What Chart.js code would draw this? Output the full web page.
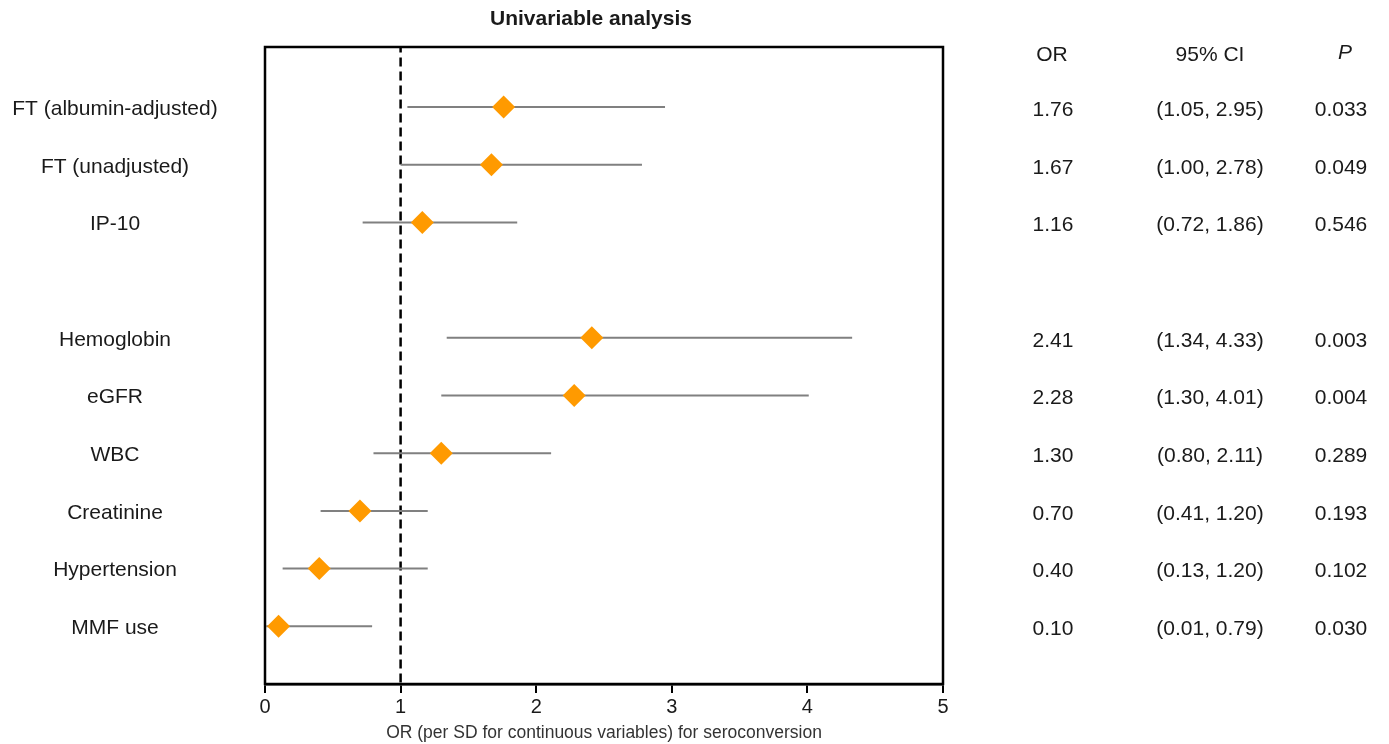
<!DOCTYPE html>
<html>
<head>
<meta charset="utf-8">
<script src="https://cdn.jsdelivr.net/npm/chart.js@4.4.0/dist/chart.umd.min.js"></script>
<style>
  html, body { margin: 0; padding: 0; background: #fff; }
  #wrap { width: 1389px; height: 744px; position: relative; }
</style>
</head>
<body>
<div id="wrap"><canvas id="c" width="1389" height="744"></canvas></div>
<script>
// ---- data ----
const labels = ["FT (albumin-adjusted)", "FT (unadjusted)", "IP-10", "", "Hemoglobin", "eGFR", "WBC", "Creatinine", "Hypertension", "MMF use"];
const orValues = [1.76, 1.67, 1.16, null, 2.41, 2.28, 1.30, 0.70, 0.40, 0.10];
const ciLow    = [1.05, 1.00, 0.72, null, 1.34, 1.30, 0.80, 0.41, 0.13, 0.01];
const ciHigh   = [2.95, 2.78, 1.86, null, 4.33, 4.01, 2.11, 1.20, 1.20, 0.79];
const orText   = ["1.76", "1.67", "1.16", "", "2.41", "2.28", "1.30", "0.70", "0.40", "0.10"];
const ciText   = ["(1.05, 2.95)", "(1.00, 2.78)", "(0.72, 1.86)", "", "(1.34, 4.33)", "(1.30, 4.01)", "(0.80, 2.11)", "(0.41, 1.20)", "(0.13, 1.20)", "(0.01, 0.79)"];
const pText    = ["0.033", "0.049", "0.546", "", "0.003", "0.004", "0.289", "0.193", "0.102", "0.030"];
const xTicks   = [0, 1, 2, 3, 4, 5];
const refLine  = 1;

const FONT = "'Liberation Sans', Arial, sans-serif";
const TXT = '#1a1a1a';

// build datasets
const ciPoints = [];
labels.forEach((l, i) => {
  if (orValues[i] === null) return;
  ciPoints.push({x: ciLow[i], y: i});
  ciPoints.push({x: ciHigh[i], y: i});
  ciPoints.push({x: null, y: null});
});
const orPoints = [];
labels.forEach((l, i) => { if (orValues[i] !== null) orPoints.push({x: orValues[i], y: i}); });

const textPlugin = {
  id: 'textPlugin',
  afterDraw(chart) {
    const {ctx, chartArea, scales} = chart;
    const y = scales.y;
    ctx.save();
    // frame
    ctx.strokeStyle = '#000';
    ctx.lineWidth = 2.5;
    ctx.strokeRect(chartArea.left, chartArea.top, chartArea.right - chartArea.left, chartArea.bottom - chartArea.top);
    ctx.fillStyle = TXT;
    ctx.textBaseline = 'middle';
    ctx.textAlign = 'center';
    // title
    ctx.font = "bold 21px " + FONT;
    ctx.fillText("Univariable analysis", 591, 19);
    // headers
    ctx.font = "21px " + FONT;
    ctx.fillText("OR", 1052, 55);
    ctx.fillText("95% CI", 1210, 55);
    ctx.font = "italic 21px " + FONT;
    ctx.fillText("P", 1345, 53);
    ctx.font = "21px " + FONT;
    labels.forEach((l, i) => {
      const py = y.getPixelForValue(i);
      ctx.fillText(l, 115, py + 2);
      ctx.fillText(orText[i], 1053, py + 3);
      ctx.fillText(ciText[i], 1210, py + 3);
      ctx.fillText(pText[i], 1341, py + 3);
    });
    ctx.restore();
  }
};

new Chart(document.getElementById('c'), {
  type: 'scatter',
  data: {
    datasets: [
      {
        label: 'ref',
        data: [{x: refLine, y: -1.1}, {x: refLine, y: 10}],
        showLine: true,
        borderColor: '#000',
        borderWidth: 2.5,
        borderDash: [9, 5],
        pointRadius: 0,
        order: 3
      },
      {
        label: 'CI',
        data: ciPoints,
        showLine: true,
        spanGaps: false,
        borderColor: '#808080',
        borderWidth: 2,
        pointRadius: 0,
        order: 2
      },
      {
        label: 'OR',
        data: orPoints,
        pointStyle: 'rectRot',
        pointRadius: 11.5,
        pointHoverRadius: 11.5,
        backgroundColor: '#ff9a00',
        borderColor: '#ff9a00',
        borderWidth: 0,
        order: 1
      }
    ]
  },
  options: {
    responsive: false,
    animation: false,
    events: [],
    layout: { padding: { left: 265, right: 446, top: 47, bottom: 0 } },
    plugins: { legend: { display: false }, tooltip: { enabled: false }, title: { display: false } },
    scales: {
      x: {
        type: 'linear',
        min: 0, max: 5,
        afterBuildTicks(axis) { axis.ticks = xTicks.map(v => ({value: v})); },
        grid: { display: true, drawOnChartArea: false, drawTicks: true, tickLength: 9, color: '#000', lineWidth: 2 },
        border: { display: true, color: '#000', width: 2.5 },
        ticks: { color: TXT, font: { family: FONT, size: 20 }, padding: 2, maxRotation: 0 },
        title: { display: true, text: 'OR (per SD for continuous variables) for seroconversion', color: '#333', font: { family: FONT, size: 17.5 }, padding: { top: 2, bottom: 0 } }
      },
      y: {
        type: 'linear',
        reverse: true,
        min: -1.04, max: 10,
        display: false
      }
    }
  },
  plugins: [textPlugin]
});
</script>
</body>
</html>
